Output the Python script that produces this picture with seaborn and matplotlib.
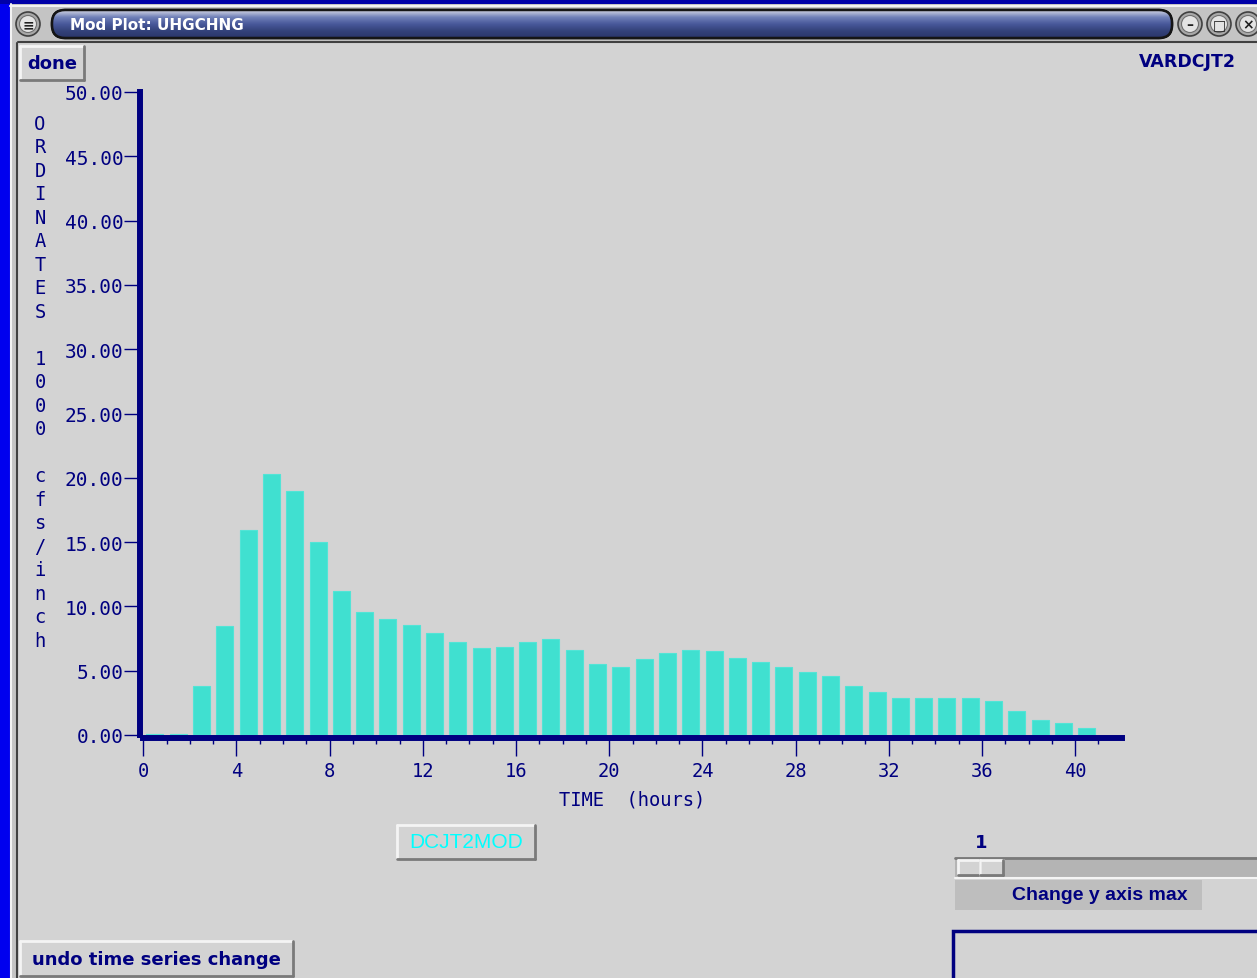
import matplotlib
matplotlib.use("Agg")
import matplotlib.pyplot as plt
import numpy as np
import seaborn as sns
from matplotlib.colors import LinearSegmentedColormap
from matplotlib.patches import Circle, FancyBboxPatch, Rectangle

# unit hydrograph ordinates, one bar per hour
hours = [0.5, 1.5, 2.5, 3.5, 4.5, 5.5, 6.5, 7.5, 8.5, 9.5,
         10.5, 11.5, 12.5, 13.5, 14.5, 15.5, 16.5, 17.5, 18.5, 19.5,
         20.5, 21.5, 22.5, 23.5, 24.5, 25.5, 26.5, 27.5, 28.5, 29.5,
         30.5, 31.5, 32.5, 33.5, 34.5, 35.5, 36.5, 37.5, 38.5, 39.5, 40.5]
ordinates = [0.1, 0.1, 3.83, 8.45, 15.93, 20.28, 18.96, 14.97, 11.22, 9.53,
             9.04, 8.58, 7.95, 7.23, 6.74, 6.87, 7.23, 7.49, 6.63, 5.54,
             5.31, 5.9, 6.4, 6.63, 6.5, 6.01, 5.67, 5.28, 4.92, 4.59,
             3.83, 3.34, 2.88, 2.88, 2.88, 2.88, 2.62, 1.89, 1.17, 0.93, 0.57]
y_ticks = [0, 5, 10, 15, 20, 25, 30, 35, 40, 45, 50]
x_ticks = [0, 4, 8, 12, 16, 20, 24, 28, 32, 36, 40]
y_label = "ORDINATES 1000 cfs/inch"

NAVY = "#000080"
GRAY = "#D3D3D3"
MONO = "DejaVu Sans Mono"

sns.set_style("ticks")
plt.rcParams["font.family"] = ["DejaVu Sans"]

W, H = 1257, 979
fig = plt.figure(figsize=(W / 100, H / 100), dpi=100)
fig.patch.set_facecolor("#0000EE")

# window chrome drawn in pixel coordinates
ui = fig.add_axes([0, 0, 1, 1])
ui.set_zorder(0)
ui.axis("off")

ui.add_patch(Rectangle((0, 0), W, 5, fc="#0000A8", ec="none"))
ui.add_patch(Rectangle((10, 5), W - 10, H - 5, fc="#C4C4C4", ec="none"))
ui.add_patch(Rectangle((18, 44), W - 18, H - 44, fc=GRAY, ec="none"))
ui.plot([11, 11], [5, H], color="#F2F2F2", lw=1.5)
ui.plot([16.5, 16.5], [44, H], color="#404040", lw=1.5)
ui.plot([10, W], [6.5, 6.5], color="#F2F2F2", lw=1.5)
ui.plot([18, W], [43, 43], color="#404040", lw=1.5)

pill = FancyBboxPatch((52, 11), 1120, 28, boxstyle="round,pad=0,rounding_size=13",
                      fc="#3A4880", ec="#151515", lw=1.8)
ui.add_patch(pill)
cmap = LinearSegmentedColormap.from_list("bar", ["#D0D4E4", "#7080B8", "#48589A", "#34427A", "#2A366A"])
img = ui.imshow(np.linspace(0, 1, 40).reshape(-1, 1), cmap=cmap, aspect="auto",
                extent=(52, 1172, 39, 11), zorder=2)
img.set_clip_path(pill)
ui.add_patch(FancyBboxPatch((52, 11), 1120, 28, boxstyle="round,pad=0,rounding_size=13",
                            fc="none", ec="#151515", lw=1.8, zorder=3))
ui.text(70, 26, "Mod Plot: UHGCHNG", color="white", fontsize=11, fontweight="bold",
        va="center", ha="left", zorder=4)

for cx, sym in [(28, "≡"), (1190, "–"), (1219, "□"), (1248, "×")]:
    ui.add_patch(Circle((cx, 25), 12, fc="#A8A8A8", ec="#404040", lw=1.2, zorder=3))
    ui.add_patch(Circle((cx, 25), 8.5, fc="#E4E4E4", ec="#707070", lw=0.8, zorder=4))
    ui.text(cx, 25.5, sym, ha="center", va="center", fontsize=10, fontweight="bold",
            color="#202020", zorder=5)


def button(x0, y0, x1, y1, fc=GRAY):
    ui.add_patch(Rectangle((x0, y0), x1 - x0, y1 - y0, fc=fc, ec="none", zorder=2))
    ui.plot([x0, x1], [y0, y0], color="#F4F4F4", lw=2, zorder=3)
    ui.plot([x0, x0], [y0, y1], color="#F4F4F4", lw=2, zorder=3)
    ui.plot([x0, x1], [y1, y1], color="#7A7A7A", lw=2, zorder=3)
    ui.plot([x1, x1], [y0, y1], color="#7A7A7A", lw=2, zorder=3)


button(20, 47, 84, 81)
ui.text(52, 64, "done", color=NAVY, fontsize=13, fontweight="bold", ha="center", va="center", zorder=4)
ui.text(1139, 62, "VARDCJT2", color=NAVY, fontsize=12.5, fontweight="bold", ha="left", va="center")

button(397, 826, 535, 860)
ui.text(466, 843, "DCJT2MOD", color="#00FFFF", fontsize=15, family="Liberation Sans",
        ha="center", va="center", zorder=4)

ui.text(981, 843, "1", color=NAVY, fontsize=13, fontweight="bold", ha="center", va="center")
ui.add_patch(Rectangle((955, 858), W - 955, 21, fc="#B4B4B4", ec="none"))
ui.plot([955, W], [858.5, 858.5], color="#7A7A7A", lw=2)
ui.plot([955, W], [879, 879], color="#F4F4F4", lw=1.5)
button(958, 861, 980, 876)
button(980, 861, 1003, 876)
ui.add_patch(Rectangle((955, 881), 247, 30, fc="#BEBEBE", ec="none"))
ui.text(1100, 896, "Change y axis max", color=NAVY, fontsize=14, fontweight="bold",
        family="Liberation Sans", ha="center", va="center")
ui.add_patch(Rectangle((952.5, 931.5), 320, 60, fc=GRAY, ec=NAVY, lw=2.5))

button(20, 942, 293, 977)
ui.text(156, 960, "undo time series change", color=NAVY, fontsize=13, fontweight="bold",
        ha="center", va="center", zorder=4)

ui.set_xlim(0, W)
ui.set_ylim(H, 0)

# the chart itself
ax = fig.add_axes([143.3 / W, (H - 736) / H, 978.4 / W, 643 / H])
ax.set_zorder(1)
ax.patch.set_alpha(0)

sns.barplot(x=hours, y=ordinates, native_scale=True, color="#40E0D0", saturation=1,
            width=0.73, edgecolor="#52E4D6", linewidth=0.8, ax=ax)

ax.set_xlim(0, 42)
ax.set_ylim(0, 50)
ax.set_xticks(x_ticks)
ax.set_xticklabels([str(t) for t in x_ticks])
ax.set_xticks(range(0, 42), minor=True)
ax.set_yticks(y_ticks)
ax.set_yticklabels([f"{t:.2f}" for t in y_ticks])

for side in ["top", "right"]:
    ax.spines[side].set_visible(False)
ax.spines["left"].set_position(("outward", 2.6))
ax.spines["bottom"].set_position(("outward", 2.2))
for side in ["left", "bottom"]:
    ax.spines[side].set_color(NAVY)
    ax.spines[side].set_linewidth(4.3)

ax.tick_params(axis="y", length=11.5, width=1, color=NAVY, pad=0,
               labelcolor=NAVY, labelsize=14)
ax.tick_params(axis="x", which="major", length=13, width=1, color=NAVY, pad=3.5,
               labelcolor=NAVY, labelsize=13.5)
ax.tick_params(axis="x", which="minor", length=4.5, width=1, color=NAVY)
for lab in ax.get_xticklabels() + ax.get_yticklabels():
    lab.set_family(MONO)

ax.set_xlabel("TIME  (hours)", family=MONO, fontsize=13.5, color=NAVY, labelpad=7)
ax.set_ylabel("\n".join(y_label), family=MONO, fontsize=13.5, color=NAVY,
              rotation=0, ha="center", va="center", linespacing=1.3)
ax.yaxis.set_label_coords(-0.1056, 0.549)

fig.savefig("out.png", dpi=100, facecolor=fig.get_facecolor())
plt.close(fig)
